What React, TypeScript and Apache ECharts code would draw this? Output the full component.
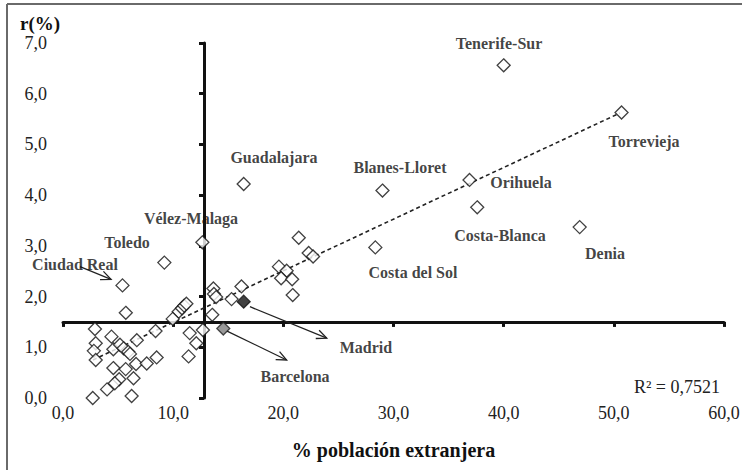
import React, { useEffect, useRef } from 'react';
import * as echarts from 'echarts';

// Named areas (x = % población extranjera, y = r(%))
const namedCities = ['Tenerife-Sur', 'Torrevieja', 'Orihuela', 'Blanes-Lloret', 'Guadalajara', 'Costa-Blanca', 'Denia', 'Costa del Sol', 'Vélez-Malaga', 'Toledo', 'Ciudad Real'];
const namedX = [40.0, 50.7, 36.9, 29.0, 16.4, 37.6, 46.9, 28.35, 12.65, 9.2, 5.4];
const namedY = [6.56, 5.63, 4.30, 4.09, 4.22, 3.76, 3.37, 2.97, 3.07, 2.67, 2.22];

// Other (unlabelled) areas
const otherX = [21.4, 22.3, 22.7, 19.6, 20.3, 19.8, 20.8, 20.85, 16.2, 15.3, 13.65, 13.7, 13.9, 13.55, 10.5, 10.8, 11.0, 11.2, 9.96, 12.7, 11.5, 12.1, 11.4, 5.7, 2.9, 4.4, 6.7, 8.4, 2.97, 2.8, 2.97, 4.57, 5.17, 5.5, 5.93, 6.08, 4.57, 5.69, 6.63, 7.6, 8.5, 6.4, 5.1, 4.7, 4.0, 6.23, 2.7];
const otherY = [3.16, 2.86, 2.79, 2.59, 2.51, 2.36, 2.34, 2.03, 2.20, 1.95, 2.16, 2.05, 1.99, 1.64, 1.70, 1.77, 1.82, 1.86, 1.56, 1.34, 1.28, 1.08, 0.82, 1.68, 1.36, 1.21, 1.14, 1.32, 1.08, 0.93, 0.75, 0.96, 1.05, 0.98, 0.91, 0.87, 0.59, 0.57, 0.67, 0.68, 0.80, 0.39, 0.37, 0.29, 0.17, 0.04, 0.0];

// Highlighted areas
const madrid = [16.4, 1.9];
const barcelona = [14.55, 1.37];

// Label anchor points (data units)
const labelNames = ['Tenerife-Sur', 'Torrevieja', 'Blanes-Lloret', 'Orihuela', 'Costa-Blanca', 'Denia', 'Costa del Sol', 'Guadalajara', 'Vélez-Malaga', 'Toledo', 'Ciudad Real', 'Madrid', 'Barcelona'];
const labelX = [39.58, 52.74, 30.59, 41.57, 39.67, 49.2, 31.77, 19.15, 11.62, 5.81, 1.09, 27.5, 21.06];
const labelY = [6.99, 5.05, 4.54, 4.24, 3.20, 2.84, 2.47, 4.74, 3.53, 3.06, 2.64, 0.99, 0.43];

// Arrows: [x1, y1, x2, y2]
const arrowCiudadReal = [1.54, 2.59, 4.36, 2.34];
const arrowMadrid = [16.97, 1.80, 23.94, 1.18];
const arrowBarcelona = [14.89, 1.32, 20.3, 0.75];

// Trend line endpoints
const trendX = [2.72, 50.56];
const trendY = [0.75, 5.62];

// Crossing lines (means)
const meanX = 12.8;
const meanY = 1.5;

const r2Label = 'R² = 0,7521';

const SERIF = '"Liberation Serif", "Times New Roman", serif';
const fmt = (v: number) => v.toFixed(1).replace('.', ',');

export default function App() {
  const ref = useRef<HTMLDivElement>(null);
  useEffect(() => {
    const chart = echarts.init(ref.current!, null, { renderer: 'svg' });
    const xMax = 60;
    const yMax = 7;
    const diamond = {
      type: 'scatter',
      symbol: 'diamond',
      symbolSize: [13, 13],
      xAxisIndex: 0,
      yAxisIndex: 0,
    };
    chart.setOption({
      animation: false,
      backgroundColor: '#fff',
      textStyle: { fontFamily: SERIF },
      grid: { left: 63, right: 18, top: 43, bottom: 72, containLabel: false, outerBoundsMode: 'none' },
      xAxis: [
        {
          type: 'value', min: 0, max: xMax, interval: 10, position: 'bottom',
          axisLine: { show: true, onZero: true, onZeroAxisIndex: 1, lineStyle: { color: '#111', width: 3 } },
          axisTick: { show: true, inside: false, length: 5, lineStyle: { color: '#111', width: 3 } },
          axisLabel: { show: false }, splitLine: { show: false },
        },
        {
          type: 'value', min: 0, max: xMax, interval: 10, position: 'bottom',
          axisLine: { show: false, onZero: false }, axisTick: { show: false },
          axisLabel: { show: true, formatter: fmt, fontFamily: SERIF, fontSize: 18, color: '#222', margin: 6 },
          splitLine: { show: false },
          name: '% población extranjera', nameLocation: 'middle', nameGap: 42,
          nameTextStyle: { fontFamily: SERIF, fontSize: 20, fontWeight: 'bold', color: '#111' },
        },
        {
          type: 'value', min: -meanX, max: xMax - meanX, show: false,
          axisLine: { onZero: false },
        },
      ],
      yAxis: [
        {
          type: 'value', min: 0, max: yMax, interval: 1, position: 'left',
          axisLine: { show: true, onZero: true, onZeroAxisIndex: 2, lineStyle: { color: '#111', width: 3 } },
          axisTick: { show: true, inside: false, length: 5, lineStyle: { color: '#111', width: 3 } },
          axisLabel: { show: false }, splitLine: { show: false },
        },
        {
          type: 'value', min: -meanY, max: yMax - meanY, show: false,
          axisLine: { onZero: false },
        },
        {
          type: 'value', min: 0, max: yMax, interval: 1, position: 'left',
          axisLine: { show: false, onZero: false }, axisTick: { show: false },
          axisLabel: { show: true, formatter: fmt, fontFamily: SERIF, fontSize: 18, color: '#222', margin: 16 },
          splitLine: { show: false },
        },
      ],
      graphic: [
        {
          type: 'line', silent: true, z: 0,
          shape: { x1: 7, y1: 4, x2: 742, y2: 4 },
          style: { stroke: '#6a6a6a', lineWidth: 2 },
        },
        {
          type: 'line', silent: true, z: 0,
          shape: { x1: 7, y1: 4, x2: 7, y2: 470 },
          style: { stroke: '#6a6a6a', lineWidth: 2 },
        },
        {
          type: 'text', left: 20, top: 14,
          style: { text: 'r(%)', font: `bold 19px ${SERIF}`, fill: '#111' },
        },
        {
          type: 'text', right: 22, top: 378,
          style: { text: r2Label, font: `18px ${SERIF}`, fill: '#222', textAlign: 'right' },
        },
      ],
      series: [
        {
          type: 'line',
          data: trendX.map((x, i) => [x, trendY[i]]),
          symbol: 'none',
          lineStyle: { color: '#222', width: 1.6, type: [4, 3] },
          z: 3,
        },
        {
          type: 'custom',
          xAxisIndex: 0, yAxisIndex: 0,
          data: [arrowCiudadReal, arrowMadrid, arrowBarcelona],
          encode: { x: [0, 2], y: [1, 3] },
          z: 4,
          renderItem: (params: any, api: any) => {
            const p1 = api.coord([api.value(0), api.value(1)]);
            const p2 = api.coord([api.value(2), api.value(3)]);
            const ang = Math.atan2(p2[1] - p1[1], p2[0] - p1[0]);
            const L = 11, a = 0.42;
            const h1 = [p2[0] - L * Math.cos(ang - a), p2[1] - L * Math.sin(ang - a)];
            const h2 = [p2[0] - L * Math.cos(ang + a), p2[1] - L * Math.sin(ang + a)];
            return {
              type: 'group',
              children: [
                { type: 'line', shape: { x1: p1[0], y1: p1[1], x2: p2[0], y2: p2[1] }, style: { stroke: '#222', lineWidth: 1.3 } },
                { type: 'polyline', shape: { points: [h1, p2, h2] }, style: { stroke: '#222', fill: 'none', lineWidth: 1.3 } },
              ],
            };
          },
        },
        {
          ...diamond,
          data: otherX.map((x, i) => [x, otherY[i]]),
          itemStyle: { color: '#fff', borderColor: '#111', borderWidth: 1.3 },
          z: 5,
        },
        {
          ...diamond,
          data: namedX.map((x, i) => ({ name: namedCities[i], value: [x, namedY[i]] })),
          itemStyle: { color: '#fff', borderColor: '#111', borderWidth: 1.3 },
          z: 5,
        },
        {
          ...diamond,
          data: [{ name: 'Barcelona', value: barcelona }],
          itemStyle: { color: '#808080', borderColor: '#222', borderWidth: 1.3 },
          z: 6,
        },
        {
          ...diamond,
          data: [{ name: 'Madrid', value: madrid }],
          itemStyle: { color: '#111', borderColor: '#111', borderWidth: 1.3 },
          z: 6,
        },
        {
          type: 'scatter',
          symbolSize: 0,
          xAxisIndex: 0, yAxisIndex: 0,
          data: labelNames.map((n, i) => ({ name: n, value: [labelX[i], labelY[i]] })),
          label: {
            show: true, position: 'inside', formatter: '{b}',
            fontFamily: SERIF, fontSize: 16, fontWeight: 'bold', color: '#111',
          },
          silent: true,
          z: 7,
        },
      ],
    });
    return () => chart.dispose();
  }, []);
  return <div ref={ref} style={{ position: 'absolute', left: 0, top: 0, width: 742, height: 470, background: '#fff' }} />;
}
